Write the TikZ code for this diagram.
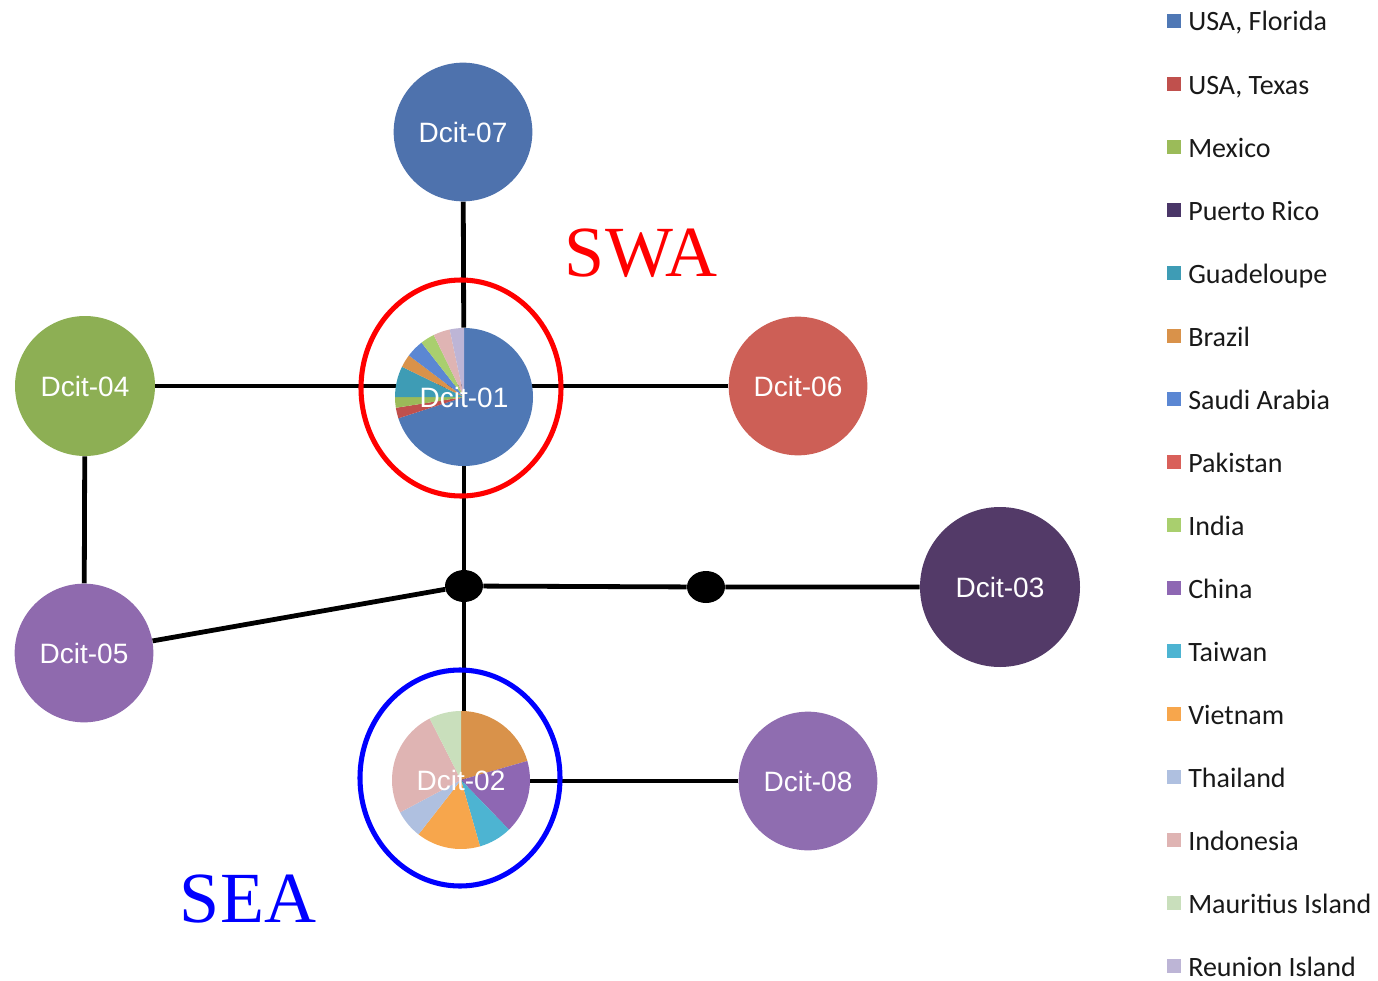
\documentclass[tikz,border=0pt]{standalone}
\usepackage{fontspec}
\setmainfont{Liberation Serif}
\newfontfamily\labfont{Liberation Sans}
\newfontfamily\legfont{Carlito}
\usetikzlibrary{shapes.geometric,backgrounds}
\definecolor{cFlorida}{HTML}{4F78B5}
\definecolor{cTexas}{HTML}{C0504D}
\definecolor{cMexico}{HTML}{9BBB59}
\definecolor{cPuerto}{HTML}{4A3668}
\definecolor{cGuad}{HTML}{3E9CB5}
\definecolor{cBrazil}{HTML}{D9924A}
\definecolor{cSaudi}{HTML}{5B87D3}
\definecolor{cPak}{HTML}{D9605A}
\definecolor{cIndia}{HTML}{A9CF6E}
\definecolor{cChina}{HTML}{8E67B3}
\definecolor{cTaiwan}{HTML}{4DB4D2}
\definecolor{cVietnam}{HTML}{F7A64C}
\definecolor{cThai}{HTML}{AFC0E0}
\definecolor{cIndo}{HTML}{DFB4B3}
\definecolor{cMaur}{HTML}{C9DFBC}
\definecolor{cReun}{HTML}{BDB5D6}
\definecolor{n07}{HTML}{4E72AD}
\definecolor{n04}{HTML}{8DAF54}
\definecolor{n06}{HTML}{CD5F56}
\definecolor{n03}{HTML}{533A68}
\definecolor{n05}{HTML}{8F6AAE}
\definecolor{n08}{HTML}{8F6DB0}
\tikzset{
  hap/.style={circle, inner sep=0pt, text=white, font=\labfont\fontsize{21}{25}\selectfont},
  junc/.style={ellipse, fill=black, inner sep=0pt, minimum width=28.5pt, minimum height=24pt},
  link/.style={line width=3.6pt, black},
  ring/.style={ellipse, draw, line width=3.8pt, inner sep=0pt, minimum width=150pt, minimum height=162pt},
  legsq/.style={minimum size=10.5pt, inner sep=0pt},
  legtxt/.style={anchor=base west, inner sep=0pt, text=black!90, font=\legfont\fontsize{21}{25}\selectfont},
  region/.style={font=\fontsize{54}{60}\selectfont}
}
\newcommand{\slice}[3]{\fill[#1] (0,0) -- (#2:69) arc[start angle=#2, end angle=#3, radius=69] -- cycle;}
\begin{document}
\begin{tikzpicture}[x=0.75pt,y=-0.75pt]
\useasboundingbox (0,0) rectangle (1378,981);
% pie for Dcit-01
\coordinate (p1) at (464,397);
\begin{scope}[shift={(p1)}, x=0.75pt, y=0.75pt]
  \slice{cFlorida}{90}{-162}
  \slice{cTexas}{189}{198}
  \slice{cMexico}{180}{189}
  \slice{cGuad}{154}{180}
  \slice{cBrazil}{143}{154}
  \slice{cSaudi}{128}{143}
  \slice{cIndia}{116}{128}
  \slice{cIndo}{102}{116}
  \slice{cReun}{90}{102}
\end{scope}
% pie for Dcit-02
\coordinate (p2) at (461,780);
\begin{scope}[shift={(p2)}, x=0.75pt, y=0.75pt]
  \slice{cBrazil}{16}{90}
  \slice{cChina}{-46}{16}
  \slice{cTaiwan}{-74}{-46}
  \slice{cVietnam}{-128}{-74}
  \slice{cThai}{-152}{-128}
  \slice{cIndo}{117}{208}
  \slice{cMaur}{90}{117}
\end{scope}
% haplotype nodes
\node[hap, fill=n07, minimum size=104pt] (h07) at (463,132) {Dcit-07};
\node[hap, minimum size=103.5pt] (h01) at (p1) {Dcit-01};
\node[hap, fill=n04, minimum size=105pt] (h04) at (85,386) {Dcit-04};
\node[hap, fill=n06, minimum size=104pt] (h06) at (798,386) {Dcit-06};
\node[hap, fill=n03, minimum size=120pt] (h03) at (1000,587) {Dcit-03};
\node[hap, fill=n05, minimum size=104pt] (h05) at (84,653) {Dcit-05};
\node[hap, minimum size=104pt] (h02) at (p2) {Dcit-02};
\node[hap, fill=n08, minimum size=104pt] (h08) at (808,781) {Dcit-08};
% median vectors
\node[junc] (j1) at (464,586) {};
\node[junc] (j2) at (706,587) {};
% connectors
\begin{pgfonlayer}{background}
  \draw[link] (h07) -- (h01);
  \draw[link] (h04) -- (h04 -| h01);
  \draw[link] (h06) -- (h06 -| h01);
  \draw[link] (h01) -- (j1);
  \draw[link] (j1) -- (j2) -- (h03);
  \draw[link] (j1) -- (h05);
  \draw[link] (h04) -- (h05);
  \draw[link] (j1) -- (j1 |- h02);
  \draw[link] (h08) -- (h08 -| h02);
\end{pgfonlayer}
% region rings
\node[ring, draw=red] (swaring) at (461,388) {};
\node[ring, draw=blue] (searing) at (460,778) {};
\node[region, text=red, anchor=base] (swa) at (641,276) {SWA};
\node[region, text=blue, anchor=base] (sea) at (248,922) {SEA};
% legend
\foreach \c/\t [count=\i from 0] in {cFlorida/{USA, Florida}, cTexas/{USA, Texas}, cMexico/Mexico, cPuerto/Puerto Rico, cGuad/Guadeloupe, cBrazil/Brazil, cSaudi/Saudi Arabia, cPak/Pakistan, cIndia/India, cChina/China, cTaiwan/Taiwan, cVietnam/Vietnam, cThai/Thailand, cIndo/Indonesia, cMaur/Mauritius Island, cReun/Reunion Island}{
  \node[legsq, fill=\c] (sq\i) at (1174, 21+63*\i) {};
  \node[legtxt] (lt\i) at (1188, 31+63*\i) {\t};
}
\end{tikzpicture}
\end{document}
